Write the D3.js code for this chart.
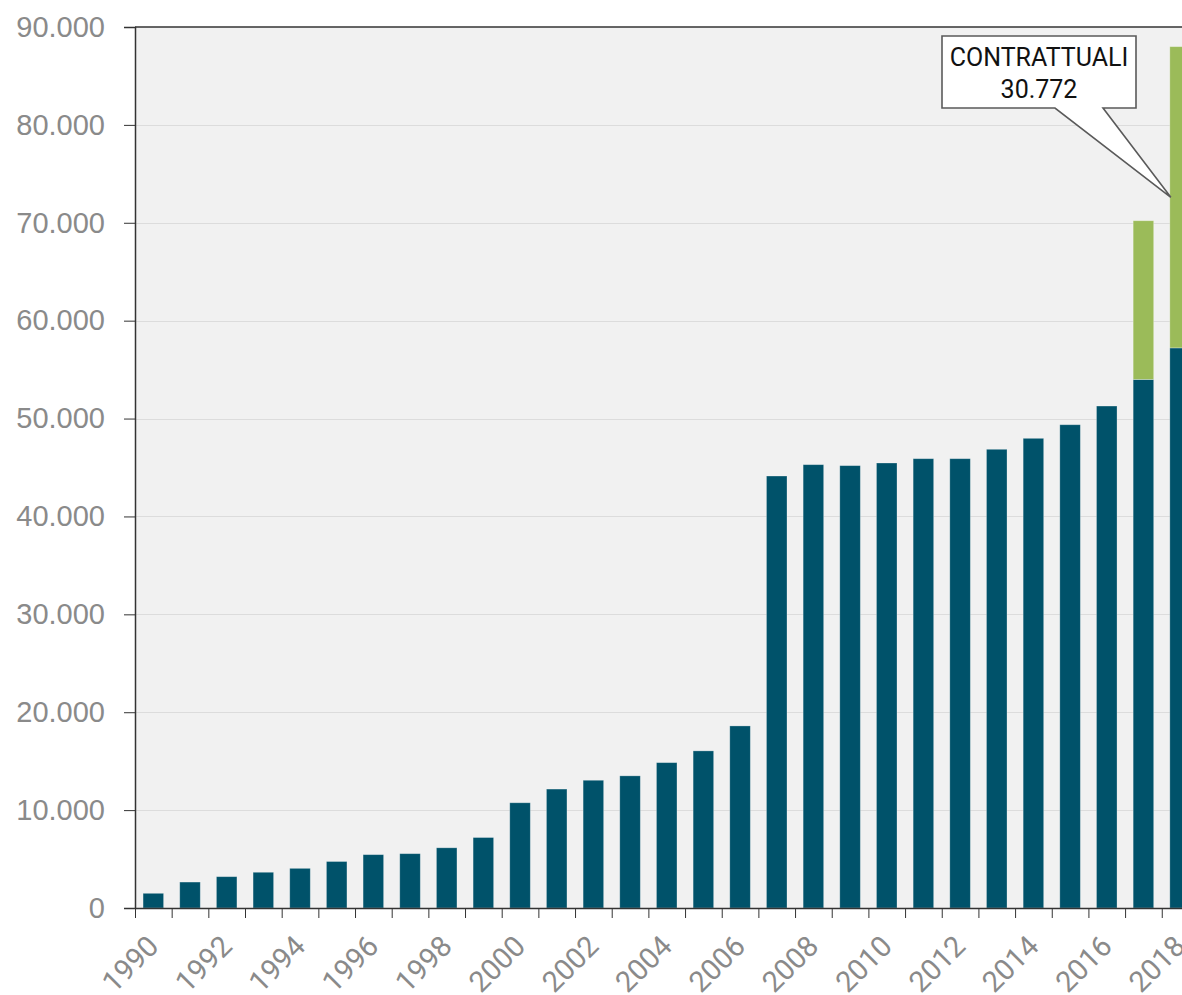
<!DOCTYPE html>
<html>
<head>
<meta charset="utf-8">
<script src="https://cdn.jsdelivr.net/npm/d3@7"></script>
<style>
	body { margin: 0; background: #fff; }
	svg { display: block; font-family: Roboto, "Noto Sans", sans-serif; }
	.axis text { fill: #8a8a8a; font-size: 29px; }
	.axis path, .axis line { stroke: #333; }
	.grid_line { stroke: #dcdcdc; stroke-width: 1; }
</style>
</head>
<body>
<div id="chart"></div>
<script>
// Years on the x axis
var years = [1990, 1991, 1992, 1993, 1994, 1995, 1996, 1997, 1998, 1999,
	2000, 2001, 2002, 2003, 2004, 2005, 2006, 2007, 2008, 2009,
	2010, 2011, 2012, 2013, 2014, 2015, 2016, 2017, 2018];

// Dark series (bottom of the stack)
var baseValues = [1500, 2650, 3200, 3650, 4050, 4750, 5450, 5550, 6150, 7200,
	10750, 12150, 13050, 13500, 14850, 16050, 18600, 44130, 45290, 45190,
	45460, 45900, 45900, 46860, 47980, 49370, 51280, 54000, 57220];

// "Contrattuali" series stacked on top
var contrattualiValues = [0, 0, 0, 0, 0, 0, 0, 0, 0, 0,
	0, 0, 0, 0, 0, 0, 0, 0, 0, 0,
	0, 0, 0, 0, 0, 0, 0, 16210, 30772];

var yTicks = [0, 10000, 20000, 30000, 40000, 50000, 60000, 70000, 80000, 90000];

// Callout text
var calloutYear = 2018;
var calloutLabel = "CONTRATTUALI";

drawChart("chart");

function drawChart(containerId) {
	var width = 1182;
	var height = 995;
	var plot = {left: 135, top: 27, bottom: 908, step: 36.67};

	var itLocale = d3.formatLocale({decimal: ",", thousands: ".", grouping: [3], currency: ["", "€"]});
	var fmt = itLocale.format(",");

	var svg = d3.select("#" + containerId).append("svg")
		.attr("width", width)
		.attr("height", height);

	var plotRight = plot.left + plot.step * years.length;

	// Band scale, padding outer = half of inner so every cell is one step wide
	var x = d3.scaleBand()
		.domain(years)
		.range([plot.left, plotRight])
		.paddingInner(0.44)
		.paddingOuter(0.22);

	// Linear scale on the cell boundaries, used for the tick marks
	var xEdge = d3.scaleLinear()
		.domain([0, years.length])
		.range([plot.left, plotRight]);

	var y = d3.scaleLinear()
		.domain([0, 90000])
		.range([plot.bottom, plot.top]);

	// Plot background
	svg.append("rect")
		.attr("x", plot.left)
		.attr("y", plot.top)
		.attr("width", plotRight - plot.left)
		.attr("height", plot.bottom - plot.top)
		.attr("fill", "#f1f1f1");

	// Horizontal grid lines
	svg.append("g").selectAll(".grid_line")
		.data(yTicks.slice(1, -1))
		.enter().append("line")
		.attr("class", "grid_line")
		.attr("x1", plot.left)
		.attr("x2", plotRight)
		.attr("y1", function(d) { return Math.round(y(d)) + 0.5; })
		.attr("y2", function(d) { return Math.round(y(d)) + 0.5; });

	// Stack the two series
	var rows = years.map(function(yr, i) {
		return {year: yr, base: baseValues[i], contrattuali: contrattualiValues[i]};
	});
	var stack = d3.stack().keys(["base", "contrattuali"]);
	var series = stack(rows);
	var colors = {base: "#00526a", contrattuali: "#9bbb59"};

	svg.append("g").selectAll("g")
		.data(series)
		.enter().append("g")
		.attr("fill", function(s) { return colors[s.key]; })
		.selectAll("rect")
		.data(function(s) { return s.filter(function(d) { return d[1] > d[0]; }); })
		.enter().append("rect")
		.attr("x", function(d) { return x(d.data.year); })
		.attr("width", x.bandwidth())
		.attr("y", function(d) { return y(d[1]); })
		.attr("height", function(d) { return y(d[0]) - y(d[1]); })
		.attr("stroke", "rgba(255,255,255,0.35)")
		.attr("stroke-width", 0.8);

	// Y axis
	var yAxis = d3.axisLeft(y)
		.tickValues(yTicks)
		.tickSize(11)
		.tickPadding(19)
		.tickFormat(fmt);

	svg.append("g")
		.attr("class", "axis y-axis")
		.attr("transform", "translate(" + plot.left + ",0)")
		.call(yAxis)
		.call(function(g) { g.select(".domain").attr("stroke-width", 1.5); });

	// X axis: ticks between the years
	var xAxis = d3.axisBottom(xEdge)
		.tickValues(d3.range(0, years.length + 1))
		.tickSize(10)
		.tickSizeOuter(0)
		.tickFormat("");

	svg.append("g")
		.attr("class", "axis x-axis")
		.attr("transform", "translate(0," + plot.bottom + ")")
		.call(xAxis)
		.call(function(g) { g.select(".domain").attr("stroke-width", 1.5); });

	// Rotated labels, one every two years (cut by the bottom edge as in the original)
	svg.append("g")
		.attr("class", "axis")
		.selectAll("text")
		.data(years.filter(function(d) { return d % 2 === 0; }))
		.enter().append("text")
		.attr("text-anchor", "end")
		.attr("transform", function(d) {
			return "translate(" + (x(d) + x.bandwidth() / 2 + 7) + "," + (plot.bottom + 40) + ") rotate(-45)";
		})
		.text(function(d) { return d; });

	// Top frame line
	svg.append("line")
		.attr("x1", plot.left)
		.attr("x2", width)
		.attr("y1", plot.top)
		.attr("y2", plot.top)
		.attr("stroke", "#333")
		.attr("stroke-width", 1.5);

	// Callout pointing at the middle of the green segment
	var idx = years.indexOf(calloutYear);
	var calloutValue = contrattualiValues[idx];
	var tipX = x(calloutYear) + 1;
	var tipY = y(baseValues[idx] + calloutValue / 2);
	var box = {x0: 942, x1: 1136, y0: 36, y1: 108, n0: 1055, n1: 1103};

	var calloutPath = "M" + box.x0 + "," + box.y0 +
		"H" + box.x1 + "V" + box.y1 +
		"H" + box.n1 + "L" + tipX + "," + tipY +
		"L" + box.n0 + "," + box.y1 +
		"H" + box.x0 + "Z";

	svg.append("path")
		.attr("d", calloutPath)
		.attr("fill", "#fff")
		.attr("stroke", "#5a5a5a")
		.attr("stroke-width", 1.6);

	var boxMid = (box.x0 + box.x1) / 2;
	svg.append("text")
		.attr("x", boxMid)
		.attr("y", 66)
		.attr("text-anchor", "middle")
		.style("font-size", "25px")
		.style("fill", "#111")
		.text(calloutLabel);

	svg.append("text")
		.attr("x", boxMid)
		.attr("y", 98)
		.attr("text-anchor", "middle")
		.style("font-size", "25px")
		.style("fill", "#111")
		.text(fmt(calloutValue));
}
</script>
</body>
</html>
